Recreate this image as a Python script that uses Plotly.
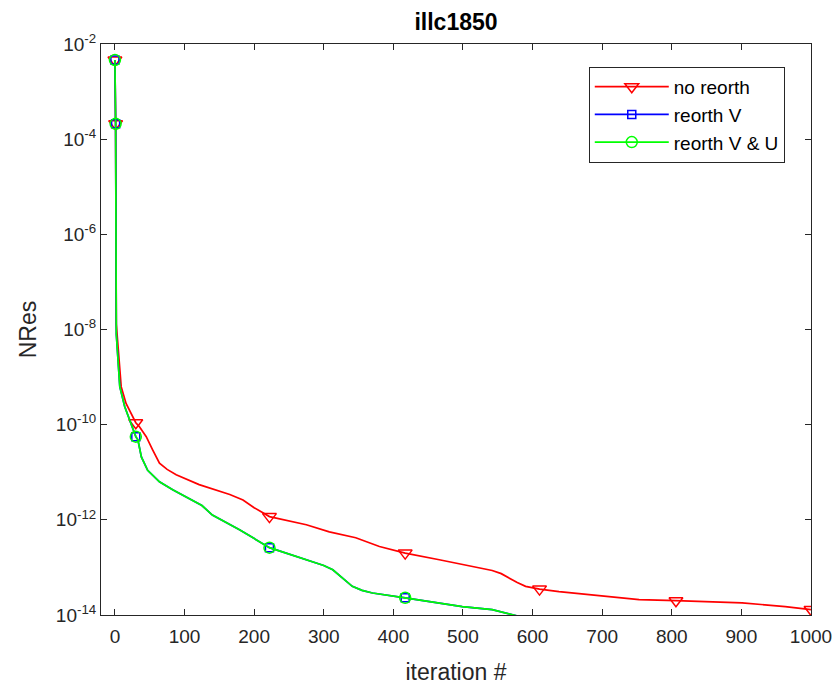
import plotly.graph_objects as go

# ---------------- data ----------------
iters_noreorth = [0, 1, 2, 6, 9, 16, 26, 30, 35, 45, 54, 60, 64, 75, 88, 121, 165, 184, 200, 222, 275, 308,
                  346, 380, 417, 466, 500, 523, 542, 555, 566, 578, 590, 600, 610, 638, 686, 753, 806,
                  901, 963, 1000]
nres_noreorth = [4.6e-3, 2.1e-4, 1.3e-8, 1.7e-9, 6.3e-10, 2.8e-10, 1.4e-10, 1.1e-10, 9.1e-11,
                 5.6e-11, 3.0e-11, 2.0e-11, 1.55e-11, 1.15e-11, 8.9e-12, 5.5e-12, 3.4e-12, 2.6e-12,
                 1.8e-12, 1.17e-12, 7.9e-13, 5.6e-13, 4.2e-13, 2.75e-13, 2.0e-13, 1.45e-13, 1.15e-13,
                 9.8e-14, 8.6e-14, 7.4e-14, 6.0e-14, 4.8e-14, 4.0e-14, 3.7e-14, 3.5e-14, 3.1e-14,
                 2.6e-14, 2.1e-14, 2.0e-14, 1.8e-14, 1.5e-14, 1.3e-14]

iters_reorthV = [0, 1, 2, 7, 14, 26, 30, 33, 38, 47, 64, 83, 112, 125, 140, 179, 222, 266, 300, 313,
                 327, 341, 355, 370, 417, 466, 499, 542, 573, 600]
nres_reorthV = [4.6e-3, 2.1e-4, 8.0e-9, 6.3e-10, 2.4e-10, 7.8e-11, 5.6e-11, 4.8e-11, 2.1e-11,
                1.1e-11, 6.3e-12, 4.3e-12, 2.6e-12, 2.0e-12, 1.26e-12, 6.2e-13, 2.6e-13, 1.6e-13,
                1.1e-13, 8.9e-14, 6.0e-14, 4.0e-14, 3.3e-14, 2.9e-14, 2.3e-14, 1.8e-14, 1.5e-14,
                1.3e-14, 1.0e-14, 7.9e-15]

iters_reorthVU = [0, 1, 2, 7, 14, 26, 30, 33, 38, 47, 64, 83, 112, 125, 140, 179, 222, 266, 300, 313,
                  327, 341, 355, 370, 417, 466, 499, 542, 573, 600]
nres_reorthVU = [4.6e-3, 2.1e-4, 8.0e-9, 6.3e-10, 2.4e-10, 7.8e-11, 5.6e-11, 4.8e-11, 2.1e-11,
                 1.1e-11, 6.3e-12, 4.3e-12, 2.6e-12, 2.0e-12, 1.26e-12, 6.2e-13, 2.6e-13, 1.6e-13,
                 1.1e-13, 8.9e-14, 6.0e-14, 4.0e-14, 3.3e-14, 2.9e-14, 2.3e-14, 1.8e-14, 1.5e-14,
                 1.3e-14, 1.0e-14, 7.9e-15]

marker_iters_noreorth = [0, 1, 30, 222, 417, 610, 806, 1000]
marker_iters_reorth = [0, 1, 30, 222, 417]

series_names = ["no reorth", "reorth V", "reorth V & U"]
x_tick_vals = [0, 100, 200, 300, 400, 500, 600, 700, 800, 900, 1000]
y_tick_exps = [-2, -4, -6, -8, -10, -12, -14]

# ---------------- figure ----------------
FONT = "Liberation Sans, Arial, Helvetica, sans-serif"
TXT = "#262626"

series = [
    (series_names[0], iters_noreorth, nres_noreorth, marker_iters_noreorth, "#ff0000", "triangle-down-open", 12),
    (series_names[1], iters_reorthV, nres_reorthV, marker_iters_reorth, "#0000ff", "square-open", 8),
    (series_names[2], iters_reorthVU, nres_reorthVU, marker_iters_reorth, "#00ff00", "circle-open", 11),
]

fig = go.Figure()
for i, (name, xs, ys, mk, color, sym, msz) in enumerate(series):
    fig.add_trace(go.Scatter(x=xs, y=ys, mode="lines", line=dict(color=color, width=1.7),
                             showlegend=False, hoverinfo="skip"))
    my = [ys[xs.index(m)] for m in mk]
    fig.add_trace(go.Scatter(x=mk, y=my, mode="markers",
                             marker=dict(symbol=sym, size=msz, color=color,
                                         line=dict(color=color, width=1.5)),
                             showlegend=False))
    fig.add_trace(go.Scatter(x=[None], y=[None], mode="lines+markers", name=name,
                             legendgroup=f"g{i}",
                             line=dict(color=color, width=1.7),
                             marker=dict(symbol=sym, size=msz, color=color,
                                         line=dict(color=color, width=1.5))))

fig.update_layout(
    width=838, height=689,
    margin=dict(l=101, r=27, t=44, b=74),
    paper_bgcolor="white", plot_bgcolor="white",
    font=dict(family=FONT, color=TXT, size=19),
    title=dict(text="illc1850", x=0.5, xref="paper", xanchor="center",
               y=1 - 22 / 689, yref="container", yanchor="middle",
               font=dict(family=FONT, size=23, color="#000000", weight="bold")),
    legend=dict(x=0.687, y=0.96, xanchor="left", yanchor="top",
                bgcolor="white", bordercolor=TXT, borderwidth=1,
                font=dict(family=FONT, size=19, color="#000000"),
                tracegroupgap=0, traceorder="grouped",
                itemwidth=74),
    showlegend=True,
)

fig.update_xaxes(
    range=[-20, 1000], tickmode="array", tickvals=x_tick_vals,
    ticktext=[str(v) for v in x_tick_vals],
    ticks="inside", ticklen=6, tickcolor=TXT, tickwidth=1,
    showline=True, linecolor=TXT, linewidth=1, mirror="ticks",
    showgrid=False, zeroline=False, ticklabelstandoff=4, automargin=False,
    title=dict(text="iteration #", font=dict(size=23, family=FONT, color=TXT), standoff=18),
    tickfont=dict(size=19, family=FONT, color=TXT),
)
fig.update_yaxes(
    type="log", range=[-14, -2], tickmode="array",
    tickvals=[10.0 ** e for e in y_tick_exps],
    ticktext=[f"10<sup>{e}</sup>" for e in y_tick_exps],
    ticks="inside", ticklen=6, tickcolor=TXT, tickwidth=1,
    showline=True, linecolor=TXT, linewidth=1, mirror="ticks",
    showgrid=False, zeroline=False, automargin=False,
    title=dict(text="NRes", font=dict(size=23, family=FONT, color=TXT), standoff=12),
    tickfont=dict(size=19, family=FONT, color=TXT),
)

fig.write_html("out.html")
